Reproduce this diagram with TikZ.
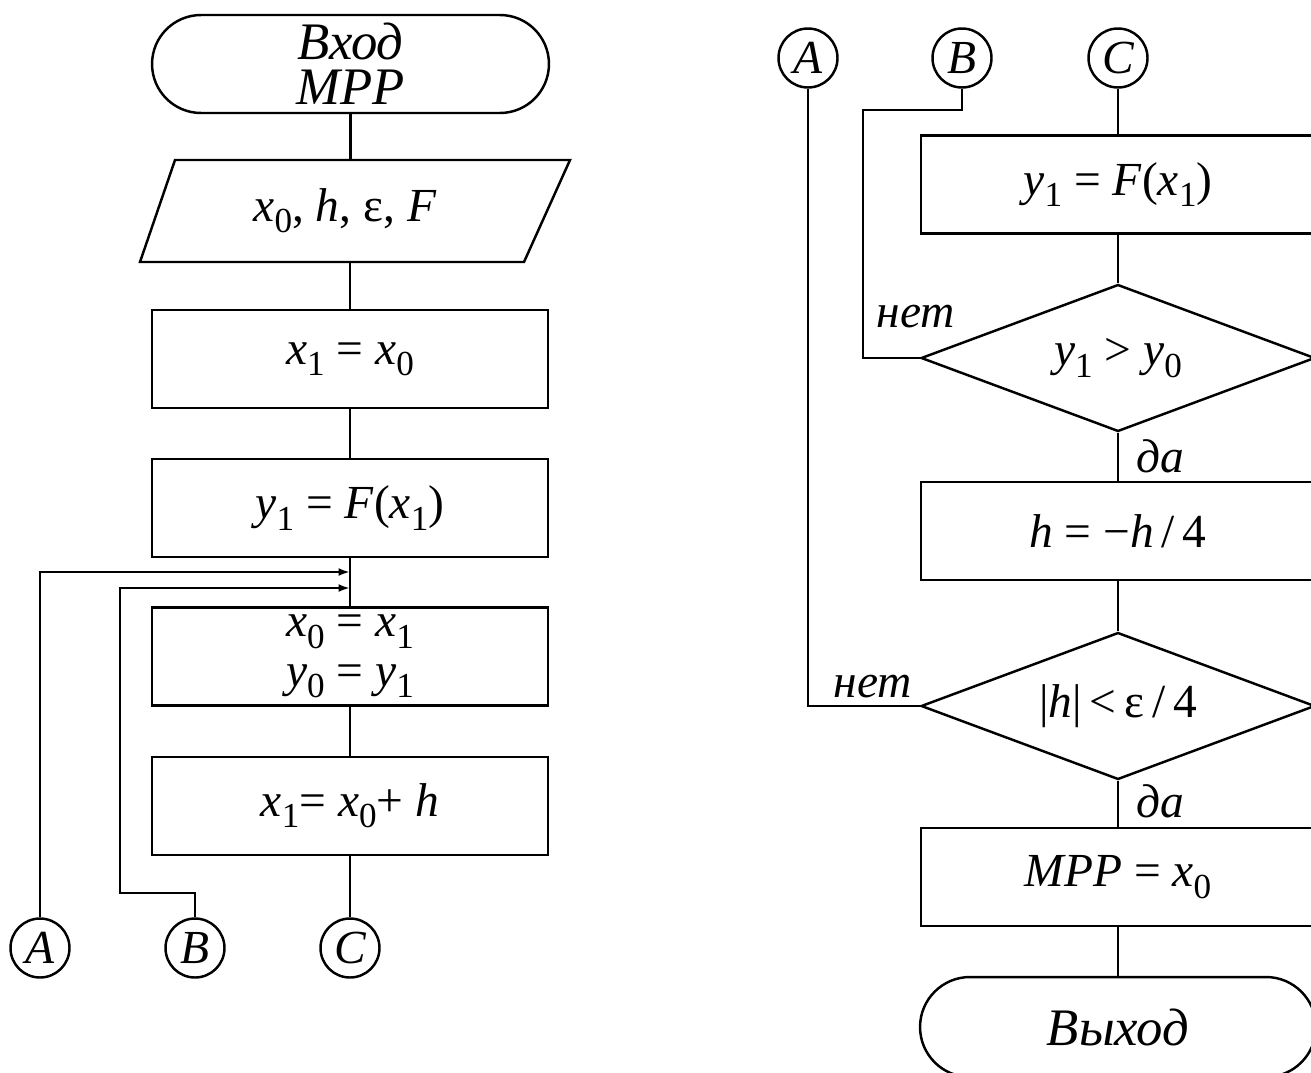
\documentclass[tikz,border=0pt]{standalone}
\usepackage{fontspec}
\setmainfont{Liberation Serif}
\usetikzlibrary{shapes.geometric,shapes.misc,arrows.meta}
\newcommand\iv[1]{\textit{#1}}
\newcommand\sbs[1]{\raisebox{-0.24em}{\fontsize{20}{20}\selectfont #1}}
\begin{document}
\begin{tikzpicture}[x=0.02cm,y=-0.02cm,line width=1.4pt,
  txt/.style={font=\fontsize{27}{28}\selectfont},
  box/.style={draw,rectangle,minimum width=7.92cm,minimum height=1.96cm,inner sep=0pt,txt},
  rbox/.style={box,minimum width=7.88cm},
  con/.style={draw,circle,minimum size=1.18cm,inner sep=0pt,font=\fontsize{27}{27}\selectfont\itshape},
  dec/.style={draw,diamond,aspect=2.67,minimum width=7.88cm,minimum height=2.94cm,inner sep=0pt,txt},
  term/.style={draw,rounded rectangle,minimum width=7.94cm,minimum height=1.96cm,inner sep=0pt,font=\fontsize{30}{25.5}\selectfont\itshape,align=center},
  lab/.style={font=\fontsize{27}{27}\selectfont\itshape,inner sep=0pt},
  arr/.style={-{Latex[length=6.5pt,width=4.5pt]}}]
\useasboundingbox (0,0) rectangle (1311,1072);
% ---------- left column ----------
\node[term] (start) at (350.5,64) {Вход\\МРР};
\draw (175,160) -- (570,160) -- (524,262) -- (140,262) -- cycle;
\node[txt,minimum height=2.04cm,inner sep=0pt] (in) at (345,211) {\iv{x}\sbs{0}, \iv{h}, ε, \iv{F}};
\node[box] (r1) at (350,359) {\iv{x}\sbs{1} = \iv{x}\sbs{0}};
\node[box] (r2) at (350,508) {\iv{y}\sbs{1} = \iv{F}(\iv{x}\sbs{1})};
\node[box,align=center] (r3) at (350,656.5) {\iv{x}\sbs{0} = \iv{x}\sbs{1}\\\iv{y}\sbs{0} = \iv{y}\sbs{1}};
\node[box] (r4) at (350,806) {\iv{x}\sbs{1}= \iv{x}\sbs{0}+ \iv{h}};
\node[con] (lA) at (40,948) {A};
\node[con] (lB) at (195,948) {B};
\node[con] (lC) at (350,948) {C};
\coordinate (jA) at (350,572);
\coordinate (jB) at (350,588);
\draw (start.south) -- (start.south |- in.north);
\draw (in.south -| r1.north) -- (r1.north);
\draw (r1.south) -- (r2.north);
\draw (r2.south) -- (r3.north);
\draw (r3.south) -- (r4.north);
\draw (r4.south) -- (lC.north);
\draw[arr] (lA.north) |- (jA);
\draw[arr] (lB.north) -- (195,893) -- (120,893) |- (jB);
% ---------- right column ----------
\node[con] (rA) at (808,58) {A};
\node[con] (rB) at (962,58) {B};
\node[con] (rC) at (1118,58) {C};
\node[rbox] (s1) at (1118,184.5) {\iv{y}\sbs{1} = \iv{F}(\iv{x}\sbs{1})};
\node[dec] (d1) at (1118,358) {\iv{y}\sbs{1} > \iv{y}\sbs{0}};
\node[rbox] (s2) at (1118,531) {\iv{h} = −\iv{h}\,/\,4};
\node[dec] (d2) at (1118,706) {|\iv{h}|\,<\,ε\,/\,4};
\node[rbox] (s3) at (1118,877) {\iv{MPP} = \iv{x}\sbs{0}};
\node[term,minimum width=7.92cm,minimum height=2.0cm] (fin) at (1118,1027) {Выход};
\draw (rC.south) -- (s1.north);
\draw (s1.south) -- (d1.north);
\draw (d1.south) -- (s2.north);
\draw (s2.south) -- (d2.north);
\draw (d2.south) -- (s3.north);
\draw (s3.south) -- (fin.north);
\draw (rB.south) -- (962,110) -- (863,110) |- (d1.west);
\draw (rA.south) |- (d2.west);
\node[lab] (n1) at (916,317) {нет};
\node[lab] (n2) at (873,687) {нет};
\node[lab] (y1) at (1160,456) {да};
\node[lab] (y2) at (1160,801) {да};
\end{tikzpicture}
\end{document}
